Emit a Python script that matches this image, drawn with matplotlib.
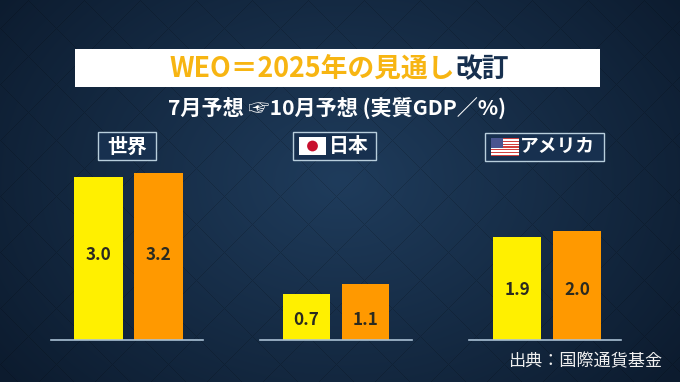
import numpy as np
import matplotlib
matplotlib.use("Agg")
import matplotlib.pyplot as plt
from matplotlib.patches import Rectangle, Circle

plt.rcParams["font.family"] = ["Noto Sans CJK JP", "DejaVu Sans"]

# chart values
regions = ["世界", "日本", "アメリカ"]
july_labels = ["3.0", "0.7", "1.9"]
october_labels = ["3.2", "1.1", "2.0"]
# the bars in the picture are not quite to scale, so heights are read separately
july_heights = [3.0, 0.85, 1.9]
october_heights = [3.08, 1.03, 2.0]

title_main = "WEO＝2025年の見通し"
title_end = "改訂"
subtitle = "7月予想 ☞10月予想 (実質GDP／%)"
source = "出典：国際通貨基金"

W, H = 680, 382
YELLOW = "#FFF000"
ORANGE = "#FF9900"
PX_PER_UNIT = 54.3
BASE_Y = 340
LABEL_Y = [1.57, 0.37, 0.92]


def draw_background(ax):
    # Navy radial gradient with a faint diagonal lattice
    x, y = np.meshgrid(np.arange(W), np.arange(H))
    dist = np.sqrt(((x - 340) / 430.0) ** 2 + ((y - 180) / 320.0) ** 2)
    dist = np.clip(dist, 0, 1)[..., None]
    inner = np.array([31, 60, 92]) / 255.0
    outer = np.array([12, 27, 46]) / 255.0
    img = inner * (1 - dist) + outer * dist
    period = 56
    d1 = np.abs((x + y) % period - period / 2) < 0.8
    d2 = np.abs((x - y) % period - period / 2) < 0.8
    img = img * (1 - 0.16 * (d1 | d2)[..., None])
    ax.imshow(img, extent=(0, W, H, 0), aspect="auto", zorder=0)


def draw_tag(ax, x0, x1, y0, y1):
    ax.add_patch(Rectangle((x0, y0), x1 - x0, y1 - y0, fc="#17304F", ec="#B8CEDC", lw=1.0, zorder=2))


def draw_japan_flag(ax, x0, y0, w, h):
    ax.add_patch(Rectangle((x0, y0), w, h, fc="white", ec="none", zorder=3))
    ax.add_patch(Circle((x0 + w / 2, y0 + h / 2), h * 0.3, fc="#C8102E", ec="none", zorder=4))


def draw_us_flag(ax, x0, y0, w, h):
    ax.add_patch(Rectangle((x0, y0), w, h, fc="white", ec="none", zorder=3))
    for i in range(0, 13, 2):
        ax.add_patch(Rectangle((x0, y0 + i * h / 13), w, h / 13, fc="#D0413F", ec="none", zorder=4))
    ax.add_patch(Rectangle((x0, y0), w * 0.42, h * 7 / 13, fc="#4A5590", ec="none", zorder=5))


def draw_bars(fig, left, right, first_center, spacing, width, i):
    # one small axes for each region, baseline at the bottom edge
    top = BASE_Y - 3.4 * PX_PER_UNIT
    ax = fig.add_axes([left / W, 1 - BASE_Y / H, (right - left) / W, (BASE_Y - top) / H])
    ax.patch.set_alpha(0)
    ax.set_ylim(0, 3.4)
    ax.set_xlim((left - first_center) / spacing, (right - first_center) / spacing)
    bar_w = width / spacing
    ax.bar([0, 1], [july_heights[i], october_heights[i]], width=bar_w, color=[YELLOW, ORANGE], zorder=2)
    for side in ["top", "left", "right"]:
        ax.spines[side].set_visible(False)
    ax.spines["bottom"].set_color("#A9C0D4")
    ax.spines["bottom"].set_linewidth(1.2)
    ax.set_xticks([])
    ax.set_yticks([])
    label_y = LABEL_Y[i]
    ax.text(0, label_y, july_labels[i], ha="center", va="center", fontsize=12.3, fontweight="bold", color="#2A2A20", zorder=3)
    ax.text(1, label_y, october_labels[i], ha="center", va="center", fontsize=12.3, fontweight="bold", color="#2A2A20", zorder=3)


fig = plt.figure(figsize=(6.8, 3.82), dpi=100)
bg = fig.add_axes([0, 0, 1, 1])
bg.axis("off")
draw_background(bg)
bg.set_xlim(0, W)
bg.set_ylim(H, 0)

# title band
bg.add_patch(Rectangle((75, 49), 525, 38, fc="white", ec="none", zorder=2))
bg.text(455, 69, title_main, ha="right", va="center", fontsize=19.3, fontweight="bold", color="#F7B512", zorder=3)
bg.text(455, 69, title_end, ha="left", va="center", fontsize=19.3, fontweight="bold", color="#17304F", zorder=3)
bg.text(337, 108, subtitle, ha="center", va="center", fontsize=15.2, fontweight="bold", color="white", zorder=3)

# region tags
draw_tag(bg, 98, 156, 132, 160)
bg.text(127, 146, regions[0], ha="center", va="center", fontsize=14.3, fontweight="bold", color="white", zorder=3)
draw_tag(bg, 293, 376, 132, 160)
draw_japan_flag(bg, 299, 137, 27, 18)
bg.text(349, 146, regions[1], ha="center", va="center", fontsize=14.3, fontweight="bold", color="white", zorder=3)
draw_tag(bg, 485, 604, 133, 161)
draw_us_flag(bg, 491, 138, 28, 18)
bg.text(557, 146, regions[2], ha="center", va="center", fontsize=13.5, fontweight="bold", color="white", zorder=3)

bg.text(585, 361, source, ha="center", va="center", fontsize=12.3, color="#F0F0F0", zorder=3)

draw_bars(fig, 51, 203, 98.5, 60, 48.5, 0)
draw_bars(fig, 260, 412, 306.5, 59, 47, 1)
draw_bars(fig, 469, 621, 517, 60, 48, 2)

fig.savefig("out.png", dpi=100)
